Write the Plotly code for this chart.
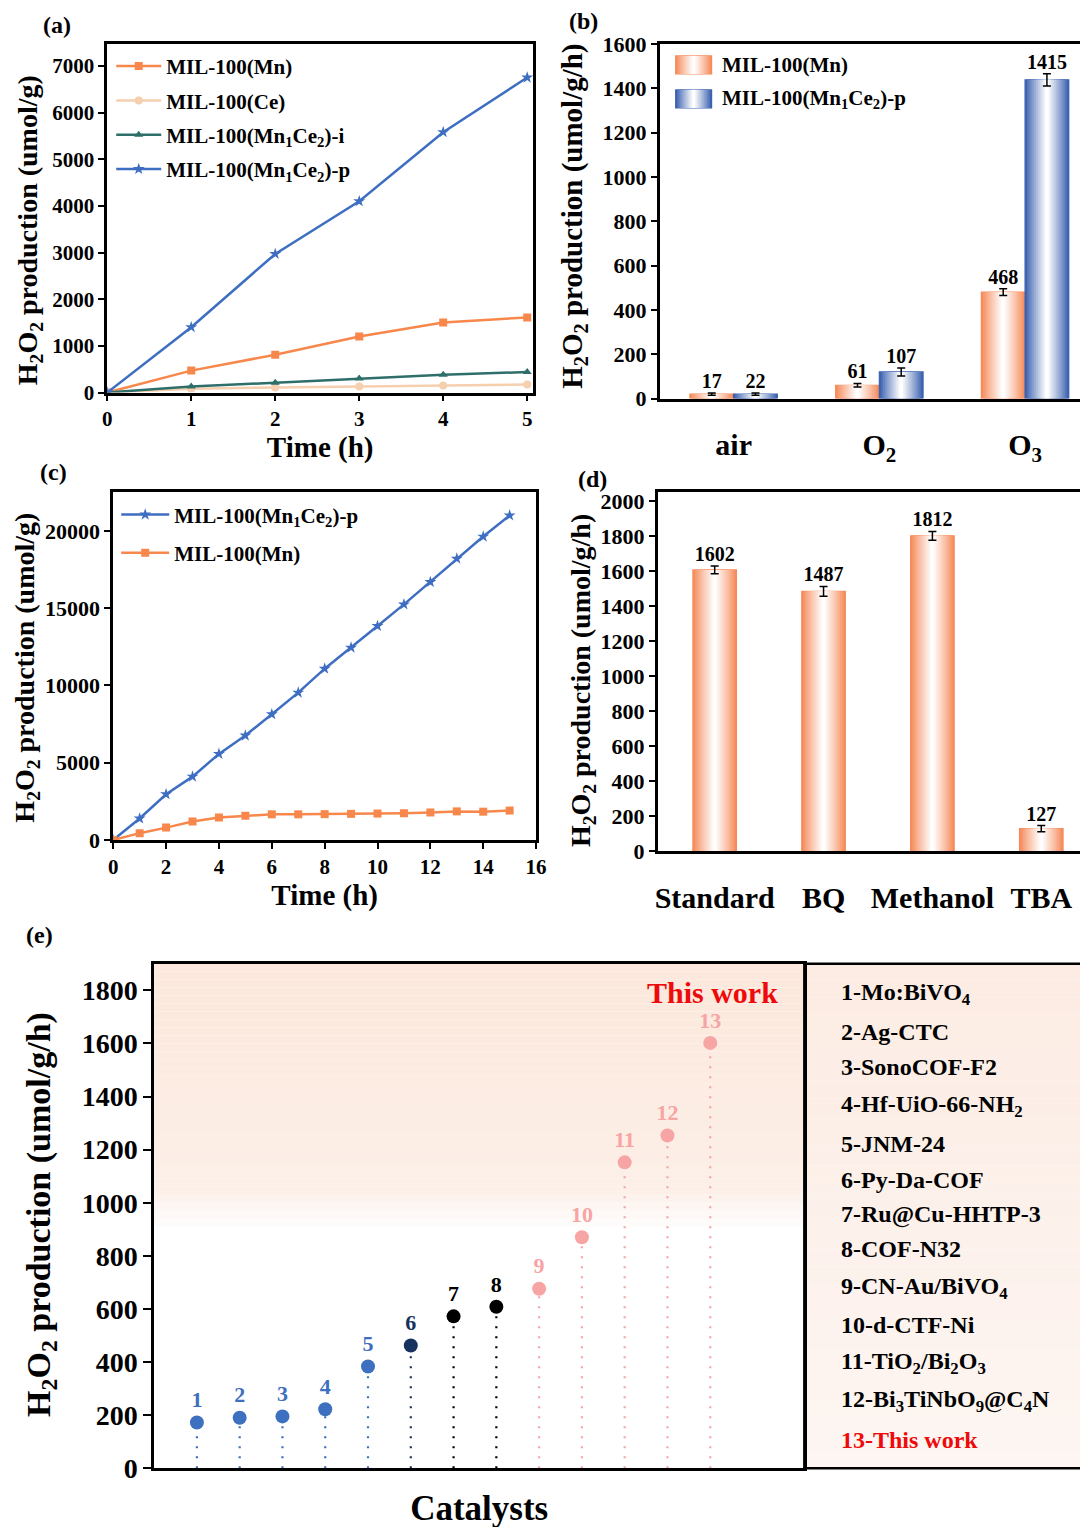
import plotly.graph_objects as go

# reference canvas 1088x1527; empirical placement correction of the photographed page
SX, CX = 0.988, 11.5
SY, CY = 0.983, 20.0
W, H = 1090, 1535
FONT = "Liberation Serif"

# ---------------- data ----------------
# (a)
time_a = [0, 1, 2, 3, 4, 5]
a_mn = [0, 470, 810, 1200, 1500, 1610]
a_ce = [0, 80, 110, 130, 150, 170]
a_mnce_i = [0, 130, 210, 300, 380, 440]
a_mnce_p = [0, 1400, 2970, 4100, 5580, 6750]
a_names = ["MIL-100(Mn)", "MIL-100(Ce)",
           "MIL-100(Mn<sub>1</sub>Ce<sub>2</sub>)-i",
           "MIL-100(Mn<sub>1</sub>Ce<sub>2</sub>)-p"]

# (b)
b_cats = ["air", "O<sub>2</sub>", "O<sub>3</sub>"]
b_mn = [20, 60, 480]
b_p = [20, 120, 1438]
b_mn_err = [5, 8, 15]
b_p_err = [5, 18, 28]
b_mn_text = ["17", "61", "468"]
b_p_text = ["22", "107", "1415"]
b_names = ["MIL-100(Mn)", "MIL-100(Mn<sub>1</sub>Ce<sub>2</sub>)-p"]

# (c)
time_c = list(range(16))
c_p = [0, 1390, 2960, 4100, 5570, 6760, 8140, 9540, 11090, 12450,
       13850, 15250, 16700, 18210, 19640, 21010]
c_mn = [0, 440, 800, 1190, 1450, 1560, 1660, 1660, 1670, 1690,
        1710, 1730, 1780, 1850, 1830, 1900]
c_names = ["MIL-100(Mn<sub>1</sub>Ce<sub>2</sub>)-p", "MIL-100(Mn)"]

# (d)
d_cats = ["Standard", "BQ", "Methanol", "TBA"]
d_vals = [1605, 1483, 1800, 127]
d_err = [22, 28, 25, 18]
d_text = ["1602", "1487", "1812", "127"]

# (e)
e_idx = list(range(1, 14))
e_vals = [172, 190, 195, 222, 383, 462, 572, 608, 676, 870, 1152, 1253, 1602]
e_group = ["blue"] * 5 + ["navy"] + ["black"] * 2 + ["pink"] * 5
e_names = ["1-Mo:BiVO<sub>4</sub>", "2-Ag-CTC", "3-SonoCOF-F2",
           "4-Hf-UiO-66-NH<sub>2</sub>", "5-JNM-24", "6-Py-Da-COF",
           "7-Ru@Cu-HHTP-3", "8-COF-N32", "9-CN-Au/BiVO<sub>4</sub>",
           "10-d-CTF-Ni", "11-TiO<sub>2</sub>/Bi<sub>2</sub>O<sub>3</sub>",
           "12-Bi<sub>3</sub>TiNbO<sub>9</sub>@C<sub>4</sub>N", "13-This work"]

# ---------------- style ----------------
C_ORANGE = "#F8874C"
C_CE = "#F5CFAE"
C_TEAL = "#2E6E6B"
C_BLUE = "#3E6EC2"
BAR_ORANGE = (246, 140, 92)
BAR_BLUE = (60, 98, 176)
E_COLORS = {"blue": "#3D70BE", "navy": "#16325E", "black": "#000000", "pink": "#F7A4A4"}
RED = "#EE0A0A"


def px(x):
    return min(1.0, max(0.0, ((x - CX) / SX) / W))


def py(y):
    return min(1.0, max(0.0, 1 - ((y - CY) / SY) / H))


def xd(a, b):
    return [px(a), px(b)]


def yd(top, bottom):
    return [py(bottom), py(top)]


def mix(rgb, t):
    r, g, b = rgb
    return "rgb(%d,%d,%d)" % (r + (255 - r) * t, g + (255 - g) * t, b + (255 - b) * t)


def bfont(size, color="black"):
    return dict(family=FONT, size=size, color=color, weight="bold")


fig = go.Figure()

# ---- (a)
a_series = [a_mn, a_ce, a_mnce_i, a_mnce_p]
a_cols = [C_ORANGE, C_CE, C_TEAL, C_BLUE]
a_syms = ["square", "circle", "triangle-up", "star"]
for k, (ys, col, sym, nm) in enumerate(zip(a_series, a_cols, a_syms, a_names)):
    fig.add_trace(go.Scatter(x=time_a, y=ys, mode="lines+markers", name=nm,
                             line=dict(color=col, width=2.5),
                             marker=dict(symbol=sym, size=9 if sym == "star" else 8, color=col),
                             xaxis="x", yaxis="y", legend="legend",
                             legendgroup="a%d" % k))

# ---- gradient bars helper
NL = 12


def grad_bars(xs, ys, base_off, width, rgb, xa, ya):
    for k in range(NL):
        wk = width * (1 - k / NL)
        off = base_off + (width - wk) / 2
        col = mix(rgb, (k / (NL - 1)) ** 0.9)
        fig.add_trace(go.Bar(x=xs, y=ys, width=wk, offset=off,
                             marker=dict(color=col,
                                         line=dict(width=1.2 if k == 0 else 0, color=mix(rgb, 0))),
                             xaxis=xa, yaxis=ya, showlegend=False, hoverinfo="skip"))


# ---- (b)
wb = 0.30
bx = list(range(len(b_cats)))
grad_bars(bx, b_mn, -wb, wb, BAR_ORANGE, "x2", "y2")
grad_bars(bx, b_p, 0, wb, BAR_BLUE, "x2", "y2")
for ys, err, txt, sgn in [(b_mn, b_mn_err, b_mn_text, -1), (b_p, b_p_err, b_p_text, 1)]:
    xc = [i + sgn * wb / 2 for i in bx]
    fig.add_trace(go.Scatter(x=xc, y=ys, mode="markers", marker=dict(size=1, opacity=0),
                             error_y=dict(type="data", array=err, color="black", thickness=1.5, width=4),
                             xaxis="x2", yaxis="y2", showlegend=False, hoverinfo="skip"))
    fig.add_trace(go.Scatter(x=xc, y=[v + e for v, e in zip(ys, err)], mode="text", text=txt,
                             textposition="top center", textfont=bfont(20),
                             xaxis="x2", yaxis="y2", showlegend=False, hoverinfo="skip"))

# ---- (c)
fig.add_trace(go.Scatter(x=time_c, y=c_p, mode="lines+markers", name=c_names[0],
                         line=dict(color=C_BLUE, width=2.5),
                         marker=dict(symbol="star", size=9, color=C_BLUE),
                         xaxis="x3", yaxis="y3", legend="legend2", legendgroup="c0"))
fig.add_trace(go.Scatter(x=time_c, y=c_mn, mode="lines+markers", name=c_names[1],
                         line=dict(color=C_ORANGE, width=2.5),
                         marker=dict(symbol="square", size=8, color=C_ORANGE),
                         xaxis="x3", yaxis="y3", legend="legend2", legendgroup="c1"))

# ---- (d)
wd = 0.40
dx = list(range(len(d_cats)))
grad_bars(dx, d_vals, -wd / 2, wd, BAR_ORANGE, "x4", "y4")
fig.add_trace(go.Scatter(x=dx, y=d_vals, mode="markers", marker=dict(size=1, opacity=0),
                         error_y=dict(type="data", array=d_err, color="black", thickness=1.5, width=4),
                         xaxis="x4", yaxis="y4", showlegend=False, hoverinfo="skip"))
fig.add_trace(go.Scatter(x=dx, y=[v + e for v, e in zip(d_vals, d_err)], mode="text", text=d_text,
                         textposition="top center", textfont=bfont(20),
                         xaxis="x4", yaxis="y4", showlegend=False, hoverinfo="skip"))

# ---- (e)
for g, col in E_COLORS.items():
    xs, ys = [], []
    pxs, pvs = [], []
    for i, v, gg in zip(e_idx, e_vals, e_group):
        if gg == g:
            xs += [i, i, None]
            ys += [0, v, None]
            pxs.append(i)
            pvs.append(v)
    fig.add_trace(go.Scatter(x=xs, y=ys, mode="lines",
                             line=dict(color=col, width=2.2, dash="2px,8px"),
                             xaxis="x5", yaxis="y5", showlegend=False, hoverinfo="skip"))
    fig.add_trace(go.Scatter(x=pxs, y=pvs, mode="markers+text", text=[str(i) for i in pxs],
                             textposition="top center", textfont=bfont(22, col),
                             marker=dict(size=14, color=col),
                             xaxis="x5", yaxis="y5", showlegend=False, hoverinfo="skip"))

# ---------------- axes ----------------
base_ax = dict(showline=True, linecolor="black", linewidth=2.5, mirror=True,
               ticks="outside", ticklen=6, tickwidth=2, tickcolor="black",
               showgrid=False, zeroline=False, tickfont=bfont(21))

fig.update_layout(
    xaxis=dict(base_ax, domain=xd(106, 533), range=[0, 5.07], dtick=1, anchor="y",
               title=dict(text="Time (h)", font=bfont(29), standoff=2)),
    yaxis=dict(base_ax, domain=yd(44, 393), range=[0, 7470], dtick=1000, anchor="x"),
    xaxis2=dict(base_ax, domain=xd(660, 1092), range=[-0.507, 2.425], anchor="y2",
                tickvals=bx, ticktext=b_cats, ticks="", ticklabelstandoff=18,
                tickfont=bfont(30)),
    yaxis2=dict(base_ax, domain=yd(44, 399), range=[0, 1600], dtick=200, anchor="x2",
                tickfont=bfont(22)),
    xaxis3=dict(base_ax, domain=xd(112, 536), range=[0, 16], dtick=2, anchor="y3",
                title=dict(text="Time (h)", font=bfont(29), standoff=2)),
    yaxis3=dict(base_ax, domain=yd(493, 841), range=[0, 22500], dtick=5000, anchor="x3",
                tickformat="d", tickfont=bfont(22)),
    xaxis4=dict(base_ax, domain=xd(658, 1092), range=[-0.523, 3.42], anchor="y4",
                tickvals=dx, ticktext=d_cats, ticks="", ticklabelstandoff=18,
                tickfont=bfont(30)),
    yaxis4=dict(base_ax, domain=yd(493, 852), range=[0, 2048], dtick=200, anchor="x4",
                tickfont=bfont(22)),
    xaxis5=dict(base_ax, domain=xd(153, 805), range=[0, 15.2], anchor="y5",
                showticklabels=False, ticks="",
                title=dict(text="Catalysts", font=bfont(35), standoff=26)),
    yaxis5=dict(base_ax, domain=yd(965, 1470), range=[0, 1900], dtick=200, anchor="x5",
                ticklen=8, tickfont=bfont(28)),
)

fig.update_layout(
    width=W, height=H, margin=dict(l=0, r=0, t=0, b=0),
    plot_bgcolor="rgba(0,0,0,0)", paper_bgcolor="white",
    barmode="overlay",
    font=dict(family=FONT, color="black", weight="bold"),
    legend=dict(x=px(110), y=py(46), xanchor="left", yanchor="top", itemwidth=45,
                bgcolor="rgba(0,0,0,0)", tracegroupgap=4, font=bfont(21)),
    legend2=dict(x=px(115), y=py(495), xanchor="left", yanchor="top", itemwidth=48,
                 bgcolor="rgba(0,0,0,0)", tracegroupgap=8, font=bfont(21)),
)

shapes = []
annotations = []

# y-axis titles
ytitle_g = "H<sub>2</sub>O<sub>2</sub> production (umol/g)"
ytitle_gh = "H<sub>2</sub>O<sub>2</sub> production (umol/g/h)"
for txt, xx, yy, sz in [(ytitle_g, 28, 230, 28), (ytitle_gh, 574, 216, 29),
                        (ytitle_g, 25, 668, 28), (ytitle_gh, 582, 681, 28),
                        (ytitle_gh, 40, 1216, 34)]:
    annotations.append(dict(xref="paper", yref="paper", x=px(xx), y=py(yy),
                            xanchor="center", yanchor="middle", textangle=-90,
                            text=txt, showarrow=False, font=bfont(sz)))

# (b) manual gradient legend
for k, (nm, rgb) in enumerate(zip(b_names, [BAR_ORANGE, BAR_BLUE])):
    top = 56 + 34 * k
    bot = top + 18
    x0, x1 = 676, 712
    for j in range(NL):
        f = 1 - j / NL
        ww = (x1 - x0) * f
        xa = x0 + ((x1 - x0) - ww) / 2
        shapes.append(dict(type="rect", xref="paper", yref="paper",
                           x0=px(xa), x1=px(xa + ww), y0=py(bot), y1=py(top),
                           fillcolor=mix(rgb, (j / (NL - 1)) ** 0.9),
                           line=dict(width=1.2 if j == 0 else 0, color=mix(rgb, 0))))
    annotations.append(dict(xref="paper", yref="paper", x=px(720), y=py(top + 9),
                            xanchor="left", yanchor="middle", text=nm, showarrow=False,
                            font=bfont(21)))

# (e) background gradient inside plot
PEACH = (252, 232, 220)
yb = 880
step = 30
while yb < 1900:
    t = min(1.0, (yb - 880) / 160.0) * (0.6 + 0.4 * (yb - 880) / 1020.0)
    r, g, b = PEACH
    col = "rgb(%d,%d,%d)" % (255 - (255 - r) * t, 255 - (255 - g) * t, 255 - (255 - b) * t)
    shapes.append(dict(type="rect", xref="x5", yref="y5", x0=0, x1=15.2,
                       y0=yb, y1=min(1900, yb + step), fillcolor=col,
                       line=dict(width=0), layer="below"))
    yb += step

# (e) legend box with gradient
ytop, ybot = 965, 1470
nb = 30
for j in range(nb):
    y0p = ytop + (ybot - ytop) * j / nb
    y1p = ytop + (ybot - ytop) * (j + 1) / nb
    t = 1 - 0.55 * j / nb
    r, g, b = (252, 236, 228)
    col = "rgb(%d,%d,%d)" % (255 - (255 - r) * t, 255 - (255 - g) * t, 255 - (255 - b) * t)
    shapes.append(dict(type="rect", xref="paper", yref="paper", x0=px(805), x1=1.0,
                       y0=py(y1p), y1=py(y0p), fillcolor=col, line=dict(width=0),
                       layer="below"))
shapes.append(dict(type="rect", xref="paper", yref="paper", x0=px(805), x1=1.0 + 2 / W,
                   y0=py(ybot), y1=py(ytop), line=dict(color="black", width=2.5)))

legend_y = [995, 1033, 1068, 1107, 1145, 1181, 1216, 1251, 1290, 1327, 1365, 1403, 1442]
for nm, yy in zip(e_names, legend_y):
    annotations.append(dict(xref="paper", yref="paper", x=px(840), y=py(yy),
                            xanchor="left", yanchor="middle", text=nm, showarrow=False,
                            font=bfont(24, RED if nm.startswith("13") else "black")))

annotations.append(dict(xref="paper", yref="paper", x=px(713), y=py(994),
                        xanchor="center", yanchor="middle", text="This work", showarrow=False,
                        font=bfont(30, RED)))

for lab, xx, yy in [("(a)", 40, 25), ("(b)", 567, 21), ("(c)", 37, 473),
                    ("(d)", 576, 480), ("(e)", 23, 936)]:
    annotations.append(dict(xref="paper", yref="paper", x=px(xx), y=py(yy),
                            xanchor="left", yanchor="middle", text=lab, showarrow=False,
                            font=bfont(24)))

fig.update_layout(shapes=shapes, annotations=annotations)
fig.write_html("out.html")
